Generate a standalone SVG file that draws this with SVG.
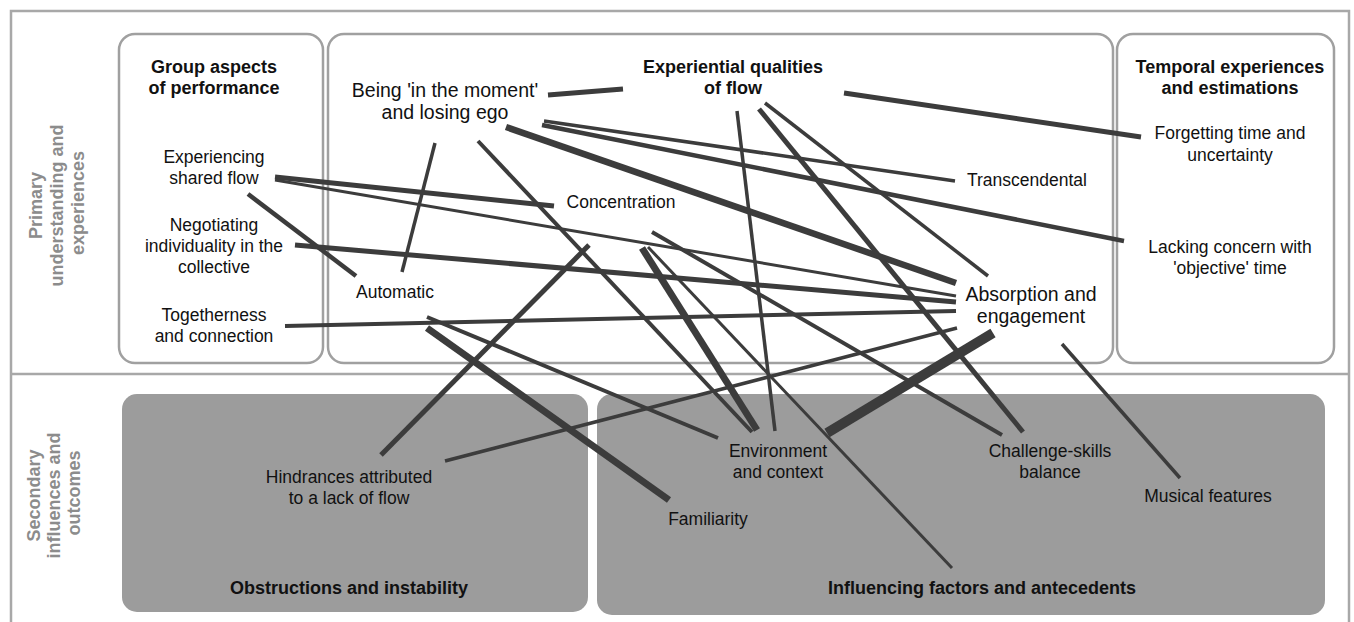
<svg xmlns="http://www.w3.org/2000/svg" width="1354" height="622" viewBox="0 0 1354 622">
  <style>
    .frame { fill: none; stroke: #a8a8a8; stroke-width: 2.5; }
    .box { fill: #ffffff; stroke: #a0a0a0; stroke-width: 2.5; }
    .gbox { fill: #9c9c9c; stroke: none; }
    .t { font-family: "Liberation Sans", Arial, sans-serif; font-size: 17.5px; fill: #111; text-anchor: middle; }
    .tl { font-size: 19.5px; }
    .tb { font-family: "Liberation Sans", Arial, sans-serif; font-size: 18px; font-weight: bold; fill: #111; text-anchor: middle; }
    .ts { font-family: "Liberation Sans", Arial, sans-serif; font-size: 17.5px; fill: #111; text-anchor: middle; }
    .side { font-family: "Liberation Sans", Arial, sans-serif; font-size: 18px; font-weight: bold; fill: #8c8c8c; text-anchor: middle; }
    #connectors line { stroke: #3c3c3c; stroke-linecap: butt; fill: none; }
  </style>

  <rect width="1354" height="622" fill="#ffffff"/>

  <!-- outer frame split into two bands -->
  <g id="bands">
    <rect class="frame" x="11" y="11" width="1338" height="615"/>
    <line class="frame" x1="11" y1="374" x2="1349" y2="374"/>
    <text class="side" transform="translate(0,203) rotate(-90)">
      <tspan x="0" y="42">Primary</tspan>
      <tspan x="0" y="63">understanding and</tspan>
      <tspan x="0" y="84">experiences</tspan>
    </text>
    <text class="side" transform="translate(0,493) rotate(-90)">
      <tspan x="0" y="40">Secondary</tspan>
      <tspan x="0" y="60">influences and</tspan>
      <tspan x="0" y="80">outcomes</tspan>
    </text>
  </g>

  <!-- category containers -->
  <g id="group-aspects">
    <rect class="box" x="119" y="34" width="204" height="329" rx="16"/>
    <text class="tb"><tspan x="214" y="73">Group aspects</tspan><tspan x="214" y="94">of performance</tspan></text>
  </g>
  <g id="experiential-qualities">
    <rect class="box" x="328" y="34" width="785" height="329" rx="16"/>
    <text class="tb"><tspan x="733" y="73">Experiential qualities</tspan><tspan x="733" y="94">of flow</tspan></text>
  </g>
  <g id="temporal-experiences">
    <rect class="box" x="1117" y="34" width="217" height="329" rx="16"/>
    <text class="tb"><tspan x="1230" y="73">Temporal experiences</tspan><tspan x="1230" y="94">and estimations</tspan></text>
  </g>
  <g id="obstructions">
    <rect class="gbox" x="122" y="394" width="466" height="218" rx="15"/>
    <text class="tb" x="349" y="594">Obstructions and instability</text>
  </g>
  <g id="influencing-factors">
    <rect class="gbox" x="597" y="394" width="728" height="221" rx="15"/>
    <text class="tb" x="982" y="594">Influencing factors and antecedents</text>
  </g>

  <!-- links between themes -->
  <g id="connectors">
    <line x1="548" y1="95" x2="623" y2="89" stroke-width="5"/>
    <line x1="844" y1="93" x2="1141" y2="137" stroke-width="5"/>
    <line x1="544" y1="121" x2="955" y2="181" stroke-width="3.5"/>
    <line x1="542" y1="125" x2="1124" y2="241" stroke-width="4.5"/>
    <line x1="506" y1="127" x2="956" y2="283" stroke-width="6.5"/>
    <line x1="435" y1="143" x2="402" y2="272" stroke-width="3.5"/>
    <line x1="478" y1="141" x2="752" y2="432" stroke-width="4"/>
    <line x1="737" y1="111" x2="775" y2="431" stroke-width="3.5"/>
    <line x1="759" y1="109" x2="1023" y2="432" stroke-width="5"/>
    <line x1="765" y1="103" x2="988" y2="276" stroke-width="3.5"/>
    <line x1="275" y1="177" x2="554" y2="206" stroke-width="5"/>
    <line x1="275" y1="180" x2="956" y2="296" stroke-width="3"/>
    <line x1="248" y1="194" x2="356" y2="276" stroke-width="4.5"/>
    <line x1="295" y1="245" x2="956" y2="302" stroke-width="5"/>
    <line x1="285" y1="326" x2="956" y2="311" stroke-width="4"/>
    <line x1="427" y1="317" x2="718" y2="438" stroke-width="4"/>
    <line x1="427" y1="328" x2="669" y2="500" stroke-width="7"/>
    <line x1="589" y1="245" x2="381" y2="455" stroke-width="5"/>
    <line x1="652" y1="232" x2="1002" y2="435" stroke-width="4"/>
    <line x1="642" y1="248" x2="757" y2="430" stroke-width="7"/>
    <line x1="648" y1="247" x2="952" y2="568" stroke-width="3"/>
    <line x1="993" y1="333" x2="827" y2="433" stroke-width="10"/>
    <line x1="957" y1="328" x2="445" y2="461" stroke-width="3.5"/>
    <line x1="1062" y1="344" x2="1180" y2="478" stroke-width="3.5"/>
  </g>

  <!-- themes -->
  <g id="experiencing-shared-flow">
    <text class="t"><tspan x="214" y="163">Experiencing</tspan><tspan x="214" y="184">shared flow</tspan></text>
  </g>
  <g id="negotiating-individuality">
    <text class="t"><tspan x="214" y="231">Negotiating</tspan><tspan x="214" y="252">individuality in the</tspan><tspan x="214" y="273">collective</tspan></text>
  </g>
  <g id="togetherness">
    <text class="t"><tspan x="214" y="321">Togetherness</tspan><tspan x="214" y="342">and connection</tspan></text>
  </g>
  <g id="being-in-the-moment">
    <text class="t tl"><tspan x="445" y="97">Being 'in the moment'</tspan><tspan x="445" y="119">and losing ego</tspan></text>
  </g>
  <g id="automatic">
    <text class="t" x="395" y="298">Automatic</text>
  </g>
  <g id="concentration">
    <text class="t" x="621" y="208">Concentration</text>
  </g>
  <g id="transcendental">
    <text class="t" x="1027" y="186">Transcendental</text>
  </g>
  <g id="absorption">
    <text class="t tl"><tspan x="1031" y="301">Absorption and</tspan><tspan x="1031" y="323">engagement</tspan></text>
  </g>
  <g id="forgetting-time">
    <text class="t"><tspan x="1230" y="139">Forgetting time and</tspan><tspan x="1230" y="161">uncertainty</tspan></text>
  </g>
  <g id="lacking-concern">
    <text class="t"><tspan x="1230" y="253">Lacking concern with</tspan><tspan x="1230" y="274">'objective' time</tspan></text>
  </g>
  <g id="hindrances">
    <text class="ts"><tspan x="349" y="483">Hindrances attributed</tspan><tspan x="349" y="504">to a lack of flow</tspan></text>
  </g>
  <g id="familiarity">
    <text class="ts" x="708" y="525">Familiarity</text>
  </g>
  <g id="environment">
    <text class="ts"><tspan x="778" y="457">Environment</tspan><tspan x="778" y="478">and context</tspan></text>
  </g>
  <g id="challenge-skills">
    <text class="ts"><tspan x="1050" y="457">Challenge-skills</tspan><tspan x="1050" y="478">balance</tspan></text>
  </g>
  <g id="musical-features">
    <text class="ts" x="1208" y="502">Musical features</text>
  </g>
</svg>
